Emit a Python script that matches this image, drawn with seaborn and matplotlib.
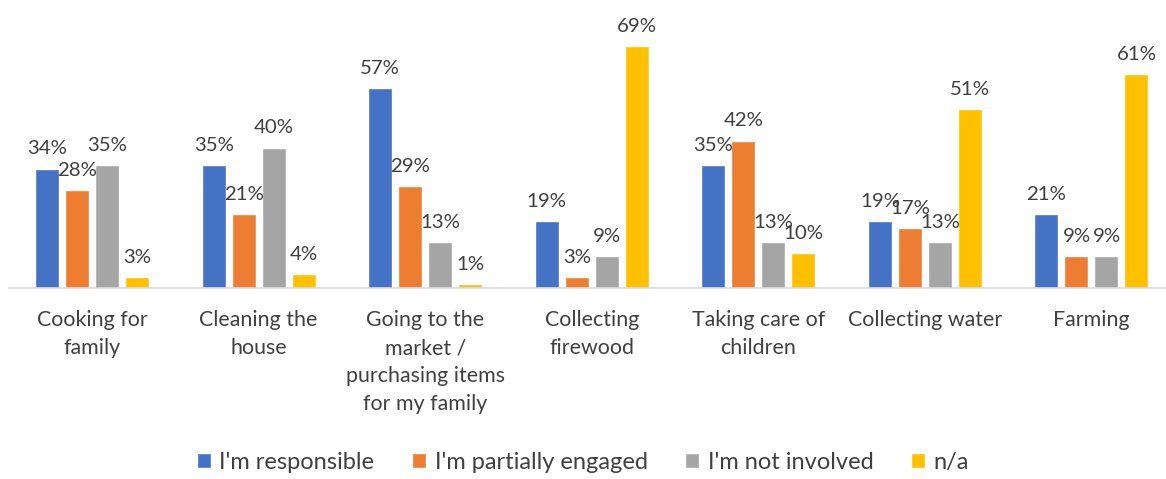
import matplotlib
matplotlib.use("Agg")
import matplotlib.pyplot as plt
import seaborn as sns
import pandas as pd

categories = ["Cooking for family", "Cleaning the house",
              "Going to the market / purchasing items for my family",
              "Collecting firewood", "Taking care of children",
              "Collecting water", "Farming"]
tick_labels = ["Cooking for\nfamily", "Cleaning the\nhouse",
               "Going to the\nmarket /\npurchasing items\nfor my family",
               "Collecting\nfirewood", "Taking care of\nchildren",
               "Collecting water", "Farming"]
series = ["I'm responsible", "I'm partially engaged", "I'm not involved", "n/a"]
responsible = [34, 35, 57, 19, 35, 19, 21]
partially = [28, 21, 29, 3, 42, 17, 9]
not_involved = [35, 40, 13, 9, 13, 13, 9]
na = [3, 4, 1, 69, 10, 51, 61]
colors = ["#4472C4", "#ED7D31", "#A5A5A5", "#FFC000"]

rows = []
for s, vals in zip(series, [responsible, partially, not_involved, na]):
    for c, v in zip(categories, vals):
        rows.append({"category": c, "series": s, "value": v})
df = pd.DataFrame(rows)

sns.set_theme(style="white")
plt.rcParams['font.family'] = ['Lato', 'DejaVu Sans']
text_color = "#404040"

fig = plt.figure(figsize=(11.66, 4.79), dpi=100)
ax = fig.add_axes([0.0075, 0.399, 1.0, 0.586])
sns.barplot(data=df, x="category", y="value", hue="series", order=categories,
            hue_order=series, palette=colors, width=0.72, gap=0.2,
            saturation=1, ax=ax, legend=True)

for cont in ax.containers:
    ax.bar_label(cont, labels=[f"{int(v)}%" for v in cont.datavalues],
                 padding=8, fontsize=14.7, color=text_color)

ax.set_ylim(0, 80)
ax.set_xlim(-0.5, 6.5)
ax.set_xlabel("")
ax.set_ylabel("")
ax.set_yticks([])
ax.set_xticks(range(len(categories)))
ax.set_xticklabels(tick_labels, fontsize=15.4, color=text_color, linespacing=1.5, va="top")
ax.tick_params(axis="x", length=0, pad=16)
for sp in ["left", "right", "top"]:
    ax.spines[sp].set_visible(False)
ax.spines["bottom"].set_color("#D9D9D9")
ax.spines["bottom"].set_linewidth(1.2)

handles, labels = ax.get_legend_handles_labels()
ax.get_legend().remove()
fig.legend(handles, labels, loc="center", bbox_to_anchor=(0.5, 0.035), ncol=4,
           frameon=False, fontsize=17, labelcolor=text_color,
           handlelength=0.6, handleheight=0.6, handletextpad=0.35, columnspacing=1.6)

fig.savefig("out.png", dpi=100)
